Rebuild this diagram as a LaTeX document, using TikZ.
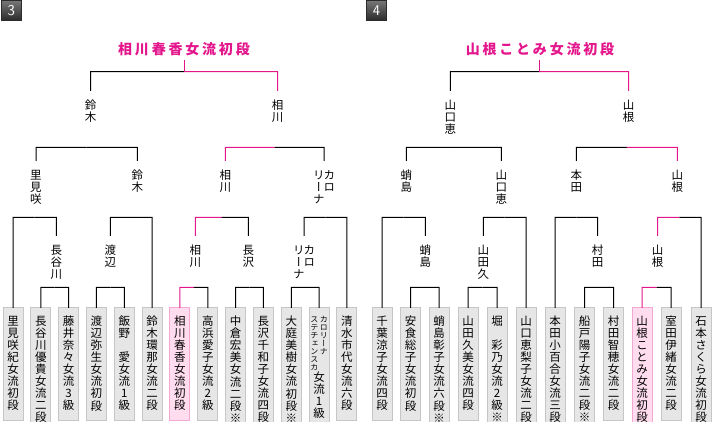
\documentclass[tikz,border=0pt]{standalone}
\usepackage{graphicx}
\usepackage{fontspec}
\newfontfamily\jp{Noto Sans CJK JP}
\newfontfamily\jpv[RawFeature=+vert]{Noto Sans CJK JP}
\usetikzlibrary{calc}
\definecolor{my_pink}{HTML}{E4168C}
\definecolor{my_boxgray}{HTML}{E6E6E6}
\definecolor{my_boxline}{HTML}{C6C6C6}
\definecolor{my_lightpink}{HTML}{FFDDEE}
\definecolor{my_pinkline}{HTML}{F2A8D0}
\definecolor{my_numtop}{HTML}{777777}
\definecolor{my_numbottom}{HTML}{2B2B2B}

% senkrechter Text: ein Zeichen pro Zelle
\makeatletter
\newdimen\tatep
\newcommand\tate[2][12pt]{\tatep=#1\relax
  \vtop{\offinterlineskip\@tfor\tate@c:=#2\do{%
    \hbox to\tatep{\rule[-.2\tatep]{0pt}{\tatep}\hss\tate@c\hss}}}}
\makeatother
% Name auf Tafel 12 in zwei kleinen Spalten
\newcommand\kname{\raisebox{3.2pt}{\fontsize{8}{8}\selectfont
  \tate[8pt]{ステチェンスカ}\kern1.5pt\tate[8pt]{カロリーナ}}}
% Paarung: linkes Ende, rechtes Ende, Hoehe des Balkens, Farben
\newcommand\duel[5]{%
  \path (#1 |- 0,#3) coordinate (dl) (#2 |- 0,#3) coordinate (dr)
        ($(dl)!.5!(dr)$) coordinate (dm);
  \draw[#4] (#1) -- (dl) -- (dm);
  \draw[#5] (dm) -- (dr) -- (#2);
}

\begin{document}
\begin{tikzpicture}[
    x=1pt, y=-1pt,
    line width=1pt,
    rnd/.style={font=\jpv\fontsize{11.5}{12}\selectfont, inner sep=0pt,
        outer ysep=9pt, anchor=north},
    plate/.style={font=\jpv\fontsize{11.5}{12}\selectfont, draw=my_boxline,
        fill=my_boxgray, inner xsep=0pt, inner ysep=8pt, minimum width=20pt,
        outer sep=0pt, anchor=north},
    winplate/.style={plate, draw=my_pinkline, fill=my_lightpink},
    champ/.style={font=\jp\bfseries\fontsize{14}{14}\selectfont\addfontfeature{LetterSpace=20},
        text=my_pink, inner sep=0pt, outer ysep=4pt, anchor=south},
    blocknum/.style={draw=my_numbottom, top color=my_numtop, bottom color=my_numbottom,
        text=white, font=\sffamily\fontsize{15}{15}\selectfont,
        minimum width=20pt, minimum height=20pt, inner sep=0pt}
]
\useasboundingbox (0,0) rectangle (724,422);
\clip (0,0) rectangle (724,422);

% ---------------------------------------------------------------
%  Block 3 (links) und Block 4 (rechts)
% ---------------------------------------------------------------

% Blocknummern
\node[blocknum] (n3) at (11.3, 10.5) {3};
\node[blocknum] (n4) at (376.5, 10.5) {4};

% Block 3: Spielerinnen
\foreach \sty/\txt [count=\i] in {plate/里見咲紀女流初段, plate/長谷川優貴女流二段,
    plate/藤井奈々女流3級, plate/渡辺弥生女流初段, plate/飯野{}愛女流1級,
    plate/鈴木環那女流二段, winplate/相川春香女流初段, plate/高浜愛子女流2級,
    plate/中倉宏美女流二段※, plate/長沢千和子女流四段, plate/大庭美樹女流初段※,
    plate/{{\kname}女流1級}, plate/清水市代女流六段}
    \node[\sty] (a\i) at ({13+27.83*(\i-1)}, 308) {\expandafter\tate\expandafter{\txt}};

% Block 4: Spielerinnen
\foreach \x/\sty/\txt [count=\i] in {382/plate/千葉涼子女流四段, 410.5/plate/安食総子女流初段,
    439/plate/蛸島彰子女流六段※, 468/plate/山田久美女流四段, 497/plate/堀{}彩乃女流2級※,
    526/plate/山口恵梨子女流二段, 555/plate/本田小百合女流三段, 584.5/plate/船戸陽子女流二段※,
    613.5/plate/村田智穂女流二段, 642/winplate/山根ことみ女流初段,
    671/plate/室田伊緒女流二段, 701/plate/石本さくら女流初段}
    \node[\sty] (b\i) at (\x, 308) {\expandafter\tate\expandafter{\txt}};

% Block 3: Sieger der Runden
\node[champ] (t3) at (184, 60) {相川春香女流初段};
\node[rnd] (fin3l) at (90.7, 91) {\tate{鈴木}};
\node[rnd] (fin3r) at (277.7, 91) {\tate{相川}};
\node[rnd] (sem3a) at (36, 161) {\tate{里見咲}};
\node[rnd] (sem3b) at (137.3, 161) {\tate{鈴木}};
\node[rnd] (sem3c) at (225.3, 161) {\tate{相川}};
\node[rnd] (sem3d) at (324, 161) {\tate{リーナ}\kern-1.5pt\tate{カロ}};
\node[rnd] (qf3a) at (56.3, 236) {\tate{長谷川}};
\node[rnd] (qf3b) at (110.3, 236) {\tate{渡辺}};
\node[rnd] (qf3c) at (195.3, 236) {\tate{相川}};
\node[rnd] (qf3d) at (248.3, 236) {\tate{長沢}};
\node[rnd] (qf3e) at (304, 236) {\tate{リーナ}\kern-1.5pt\tate{カロ}};

% Block 4: Sieger der Runden
\node[champ] (t4) at (540, 60) {山根ことみ女流初段};
\node[rnd] (fin4l) at (450.3, 91) {\tate{山口恵}};
\node[rnd] (fin4r) at (628.7, 91) {\tate{山根}};
\node[rnd] (sem4a) at (406.3, 161) {\tate{蛸島}};
\node[rnd] (sem4b) at (501.3, 161) {\tate{山口恵}};
\node[rnd] (sem4c) at (576.3, 161) {\tate{本田}};
\node[rnd] (sem4d) at (677.3, 161) {\tate{山根}};
\node[rnd] (qf4a) at (425.3, 236) {\tate{蛸島}};
\node[rnd] (qf4b) at (483.3, 236) {\tate{山田久}};
\node[rnd] (qf4c) at (597.7, 236) {\tate{村田}};
\node[rnd] (qf4d) at (657.7, 236) {\tate{山根}};

% Block 3: Linien
\duel{a2.north}{a3.north}{287.3}{black}{black}
\duel{a4.north}{a5.north}{287.3}{black}{black}
\duel{a7.north}{a8.north}{287.3}{my_pink}{black}
\duel{a9.north}{a10.north}{287.3}{black}{black}
\duel{a11.north}{a12.north}{287.3}{black}{black}
\duel{a1.north}{qf3a.north}{217.3}{black}{black}
\duel{qf3b.north}{a6.north}{217.3}{black}{black}
\duel{qf3c.north}{qf3d.north}{217.3}{my_pink}{black}
\duel{qf3e.north}{a13.north}{217.3}{black}{black}
\duel{sem3a.north}{sem3b.north}{147.3}{black}{black}
\duel{sem3c.north}{sem3d.north}{147.3}{my_pink}{black}
\duel{fin3l.north}{fin3r.north}{71.7}{black}{my_pink}
\draw[my_pink] (dm) -- (dm |- t3.south);

% Block 4: Linien
\duel{b2.north}{b3.north}{287.3}{black}{black}
\duel{b4.north}{b5.north}{287.3}{black}{black}
\duel{b8.north}{b9.north}{287.3}{black}{black}
\duel{b10.north}{b11.north}{287.3}{my_pink}{black}
\duel{b1.north}{qf4a.north}{217.3}{black}{black}
\duel{qf4b.north}{b6.north}{217.3}{black}{black}
\duel{b7.north}{qf4c.north}{217.3}{black}{black}
\duel{qf4d.north}{b12.north}{217.3}{my_pink}{black}
\duel{sem4a.north}{sem4b.north}{147.3}{black}{black}
\duel{sem4c.north}{sem4d.north}{147.3}{black}{my_pink}
\duel{fin4l.north}{fin4r.north}{71.7}{black}{my_pink}
\draw[my_pink] (dm) -- (dm |- t4.south);

\end{tikzpicture}
\end{document}
